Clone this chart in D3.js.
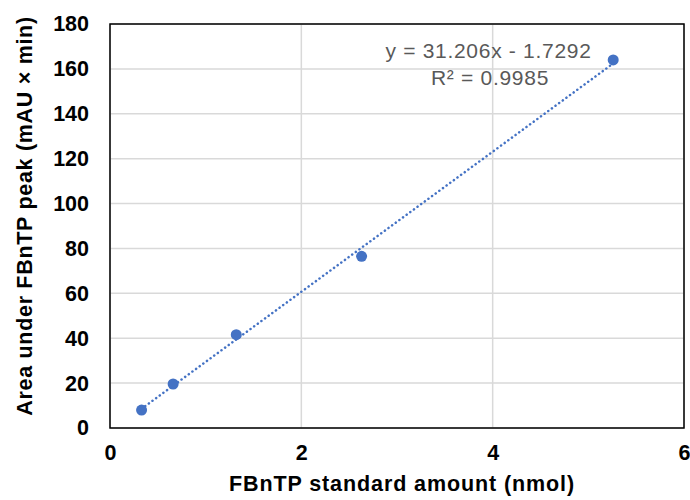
<!DOCTYPE html>
<html>
<head>
<meta charset="utf-8">
<script src="https://cdn.jsdelivr.net/npm/d3@7"></script>
<style>
  body { margin: 0; background: #fff; }
  text { font-family: "Liberation Sans", Arial, sans-serif; }
</style>
</head>
<body>
<svg id="chart" width="690" height="500"></svg>
<script>
// standard amounts (nmol) and peak areas (mAU x min)
var amounts = [0.33, 0.66, 1.32, 2.63, 5.26];
var areas = [8.0, 19.6, 41.6, 76.5, 164.0];
var xTicks = [0, 2, 4, 6];
var yTicks = [0, 20, 40, 60, 80, 100, 120, 140, 160, 180];
var slope = 31.206, intercept = -1.7292;
var eqLines = ["y = 31.206x - 1.7292", "R\u00b2 = 0.9985"];

var svg = d3.select("#chart");
var plotL = 110, plotR = 684, plotT = 24, plotB = 428;
var blue = "#4472C4";

var x = d3.scaleLinear().domain([0, 6]).range([plotL, plotR]);
var y = d3.scaleLinear().domain([0, 180]).range([plotB, plotT]);

// gridlines
svg.append("g").selectAll("line").data(yTicks).join("line")
  .attr("x1", plotL).attr("x2", plotR)
  .attr("y1", function(d){ return y(d); }).attr("y2", function(d){ return y(d); })
  .attr("stroke", "#D9D9D9").attr("stroke-width", 1.5);
svg.append("g").selectAll("line").data(xTicks).join("line")
  .attr("y1", plotT).attr("y2", plotB)
  .attr("x1", function(d){ return x(d); }).attr("x2", function(d){ return x(d); })
  .attr("stroke", "#D9D9D9").attr("stroke-width", 1.5);

// plot border
svg.append("rect").attr("x", plotL).attr("y", plotT)
  .attr("width", plotR - plotL).attr("height", plotB - plotT)
  .attr("fill", "none").attr("stroke", "#000").attr("stroke-width", 1.5);

// tick labels
var xAxis = d3.axisBottom(x).tickValues(xTicks).tickFormat(d3.format("d")).tickSize(0).tickPadding(17);
svg.append("g").attr("transform", "translate(0," + plotB + ")").call(xAxis)
  .call(function(g){ g.select(".domain").remove(); })
  .selectAll("text").attr("font-size", 21.5).attr("font-weight", "bold")
  .attr("font-family", "Liberation Sans, Arial, sans-serif").attr("fill", "#000");

var yAxis = d3.axisLeft(y).tickValues(yTicks).tickFormat(d3.format("d")).tickSize(0).tickPadding(21);
svg.append("g").attr("transform", "translate(" + plotL + ",0)").call(yAxis)
  .call(function(g){ g.select(".domain").remove(); })
  .selectAll("text").attr("font-size", 21.5).attr("font-weight", "bold")
  .attr("font-family", "Liberation Sans, Arial, sans-serif").attr("fill", "#000");

// axis titles
svg.append("text").attr("x", 402).attr("y", 491)
  .attr("text-anchor", "middle").attr("font-size", 21.5).attr("font-weight", "bold")
  .attr("letter-spacing", 0.9)
  .text("FBnTP standard amount (nmol)");
svg.append("text").attr("transform", "translate(32,216) rotate(-90)")
  .attr("text-anchor", "middle").attr("font-size", 21.5).attr("font-weight", "bold")
  .attr("letter-spacing", 0.7)
  .text("Area under FBnTP peak (mAU \u00d7 min)");

// trendline over data range
var x0 = d3.min(amounts), x1 = d3.max(amounts);
svg.append("line")
  .attr("x1", x(x0)).attr("y1", y(slope * x0 + intercept))
  .attr("x2", x(x1)).attr("y2", y(slope * x1 + intercept))
  .attr("stroke", blue).attr("stroke-width", 2.5)
  .attr("stroke-dasharray", "0.1 4.4").attr("stroke-linecap", "round");

// points
svg.append("g").selectAll("circle").data(amounts).join("circle")
  .attr("cx", function(d){ return x(d); })
  .attr("cy", function(d, i){ return y(areas[i]); })
  .attr("r", 5.5).attr("fill", blue);

// equation label
svg.append("g").selectAll("text").data(eqLines).join("text")
  .attr("x", function(d, i){ return i === 0 ? 488.5 : 490; })
  .attr("y", function(d, i){ return 58 + i * 27; })
  .attr("text-anchor", "middle").attr("font-size", 21).attr("fill", "#595959")
  .attr("letter-spacing", 0.7)
  .text(function(d){ return d; });
</script>
</body>
</html>
